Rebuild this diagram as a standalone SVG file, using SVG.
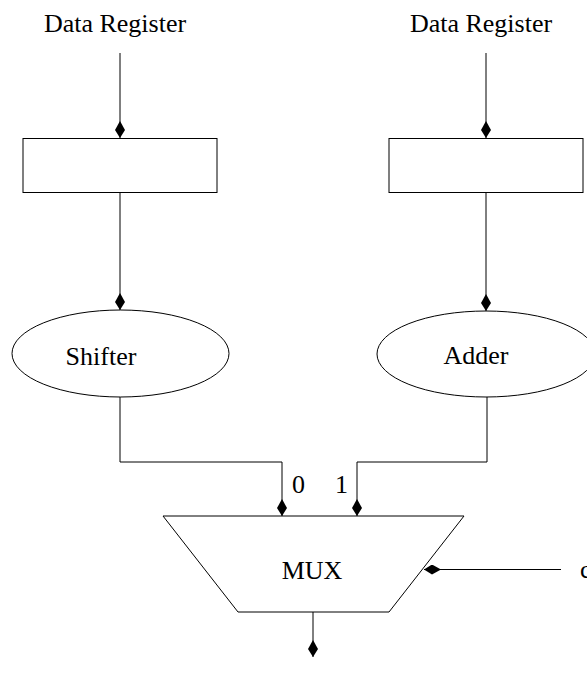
<svg xmlns="http://www.w3.org/2000/svg" width="587" height="675" viewBox="0 0 587 675">
<defs>
<style>
.s{fill:#fff;stroke:#000;stroke-width:1}
.w{fill:none;stroke:#000;stroke-width:1}
text{font-family:"Liberation Serif","Times New Roman",serif;font-size:26px;fill:#000}
.c{text-anchor:middle}
</style>
<marker id="d" viewBox="-18 -5 19 10" markerWidth="19" markerHeight="10" refX="0" refY="0" orient="auto" markerUnits="userSpaceOnUse">
<path d="M0,0 L-8,-5 L-17,0 L-8,5 Z" fill="#000"/>
</marker>
</defs>
<g id="reg1"><text class="c" x="115" y="32">Data Register</text><rect class="s" x="23" y="138.5" width="194" height="54"/></g>
<g id="reg2"><text class="c" x="481" y="32">Data Register</text><rect class="s" x="389" y="138.5" width="194" height="54"/></g>
<g id="shifter"><ellipse class="s" cx="120.5" cy="353.5" rx="108.5" ry="43.5"/><text class="c" x="101" y="365">Shifter</text></g>
<g id="adder"><ellipse class="s" cx="486" cy="354" rx="109" ry="43"/><text class="c" x="476" y="364">Adder</text></g>
<g id="mux"><polygon class="s" points="163,516 464,516 389,612 238,612"/><text class="c" x="312" y="579">MUX</text></g>
<g id="labels"><text x="292" y="493">0</text><text x="335" y="493">1</text><text x="580" y="578">c</text></g>
<g id="connectors">
<path class="w" d="M120,53 V138" marker-end="url(#d)"/>
<path class="w" d="M486,53 V138" marker-end="url(#d)"/>
<path class="w" d="M120,193 V310" marker-end="url(#d)"/>
<path class="w" d="M486,193 V311" marker-end="url(#d)"/>
<path class="w" d="M120,397 V462 H282 V516" marker-end="url(#d)"/>
<path class="w" d="M487,397 V462 H357 V516" marker-end="url(#d)"/>
<path class="w" d="M561,569.5 H424" marker-end="url(#d)"/>
<path class="w" d="M313,612 V657" marker-end="url(#d)"/>
</g>
</svg>
